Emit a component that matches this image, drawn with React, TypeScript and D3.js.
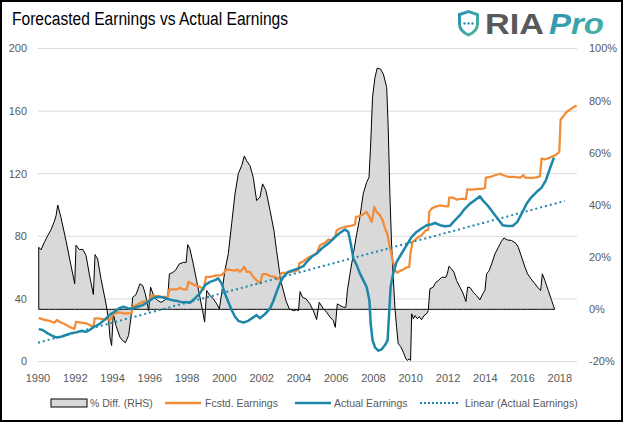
import React from "react";
import * as d3 from "d3";

// ---------- DATA (decimal year, value) ----------
const pctDiff: [number, number][] = [
  [1990.04, 23.8], [1990.16, 22.8], [1990.34, 25.7], [1990.57, 28.9], [1990.7, 30.5], [1990.88, 33.8],
  [1990.97, 35.9], [1991.06, 40.0], [1991.23, 35.3], [1991.5, 26.4], [1991.77, 16.8], [1991.97, 9.8],
  [1992.04, 24.6], [1992.22, 22.9], [1992.4, 23.0], [1992.58, 20.6], [1992.75, 13.6], [1992.97, 5.7],
  [1993.06, 21.0], [1993.2, 19.3], [1993.38, 11.7], [1993.65, 2.1], [1993.79, -4.3], [1993.86, -10.7],
  [1993.95, -13.9], [1994.04, -1.7], [1994.18, -6.2], [1994.4, -10.7], [1994.54, -12.0], [1994.69, -12.8],
  [1994.86, -10.0], [1994.99, -3.0], [1995.08, 4.6], [1995.26, 5.7], [1995.47, 9.8], [1995.62, 9.1],
  [1995.76, 5.9], [1995.94, -0.5], [1996.04, 8.5], [1996.24, 4.6], [1996.42, 3.4], [1996.6, 2.7],
  [1996.78, 3.4], [1996.96, 4.6], [1997.05, 13.6], [1997.22, 14.1], [1997.37, 14.9], [1997.58, 17.4],
  [1997.8, 18.0], [1997.95, 18.0], [1998.03, 24.8], [1998.15, 23.2], [1998.33, 17.4], [1998.51, 11.0],
  [1998.69, 4.6], [1998.83, -0.5], [1998.94, -4.9], [1999.05, 7.2], [1999.23, 5.3], [1999.41, 4.0],
  [1999.59, 2.1], [1999.73, 0.2], [1999.85, 5.9], [2000.03, 14.9], [2000.21, 21.3], [2000.39, 32.8],
  [2000.57, 44.3], [2000.75, 52.1], [2000.93, 55.1], [2001.07, 58.8], [2001.19, 57.0], [2001.37, 55.1],
  [2001.55, 50.6], [2001.73, 41.7], [2001.91, 43.0], [2002.05, 48.1], [2002.23, 45.5], [2002.45, 37.9],
  [2002.66, 30.2], [2002.8, 22.5], [2002.95, 14.9], [2003.07, 9.8], [2003.3, 3.4], [2003.48, 0.2],
  [2003.7, -0.5], [2003.88, -0.2], [2003.98, -0.5], [2004.06, 6.8], [2004.2, 4.6], [2004.38, 4.0],
  [2004.59, 2.1], [2004.77, -0.5], [2004.95, -3.9], [2005.09, 2.7], [2005.31, 0.2], [2005.49, -1.1],
  [2005.67, -3.0], [2005.84, -4.3], [2005.95, -6.9], [2006.06, 2.1], [2006.2, 1.5], [2006.38, 0.8],
  [2006.52, 0.8], [2006.6, 7.2], [2006.74, 13.6], [2006.92, 21.3], [2007.1, 28.9], [2007.27, 35.3],
  [2007.45, 44.3], [2007.63, 48.7], [2007.76, 50.6], [2007.85, 63.4], [2007.95, 81.3], [2008.08, 88.9],
  [2008.2, 92.5], [2008.38, 92.1], [2008.53, 90.2], [2008.71, 85.1], [2008.79, 69.8], [2008.88, 44.3],
  [2008.97, 25.1], [2009.06, 12.3], [2009.15, 0.8], [2009.24, -6.9], [2009.33, -13.2], [2009.46, -14.3],
  [2009.6, -16.4], [2009.74, -19.0], [2009.81, -19.6], [2009.92, -19.0], [2009.99, -19.6], [2010.05, -1.7],
  [2010.14, -3.6], [2010.23, -2.4], [2010.35, -3.6], [2010.46, -2.8], [2010.58, -4.0], [2010.71, -2.4],
  [2010.85, -1.7], [2010.94, -0.5], [2011.03, 7.9], [2011.2, 8.5], [2011.35, 10.4], [2011.48, 11.0],
  [2011.66, 12.3], [2011.89, 12.3], [2011.96, 13.6], [2012.05, 16.5], [2012.19, 15.5], [2012.32, 14.2],
  [2012.46, 11.0], [2012.64, 8.5], [2012.82, 5.9], [2012.96, 3.0], [2013.05, 8.5], [2013.18, 8.4],
  [2013.35, 6.6], [2013.53, 5.3], [2013.71, 3.6], [2013.86, 5.9], [2013.98, 7.2], [2014.07, 13.6],
  [2014.21, 14.9], [2014.34, 17.4], [2014.52, 21.3], [2014.7, 23.8], [2014.87, 26.1], [2015.0, 27.4],
  [2015.18, 26.6], [2015.41, 26.4], [2015.64, 25.3], [2015.77, 23.8], [2015.95, 20.0], [2016.13, 16.1],
  [2016.27, 13.6], [2016.45, 11.7], [2016.66, 9.8], [2016.84, 8.2], [2016.97, 7.2], [2017.06, 13.6],
  [2017.2, 11.0], [2017.38, 7.2], [2017.56, 3.4], [2017.72, 0.0],
];

const fcstEarnings: [number, number][] = [
  [1990.04, 27.9], [1990.25, 26.9], [1990.61, 26.0], [1990.88, 24.8], [1991.01, 26.5], [1991.15, 25.4],
  [1991.42, 23.9], [1991.68, 22.2], [1991.95, 20.7], [1992.04, 25.4], [1992.31, 24.8], [1992.58, 24.4],
  [1992.85, 22.8], [1992.99, 22.8], [1993.04, 27.6], [1993.2, 27.6], [1993.47, 27.1], [1993.69, 27.1],
  [1993.86, 26.5], [1993.95, 28.6], [1994.08, 30.7], [1994.35, 31.4], [1994.62, 30.7], [1994.89, 30.7],
  [1995.03, 31.0], [1995.08, 35.0], [1995.26, 36.0], [1995.44, 37.1], [1995.62, 38.2], [1995.89, 38.5],
  [1995.97, 38.6], [1996.06, 42.0], [1996.33, 42.0], [1996.6, 41.3], [1996.87, 41.3], [1996.96, 41.3],
  [1997.05, 46.1], [1997.22, 46.1], [1997.49, 46.1], [1997.62, 47.2], [1997.78, 46.1], [1997.98, 46.1],
  [1998.07, 50.9], [1998.24, 49.9], [1998.42, 48.8], [1998.69, 47.7], [1998.9, 46.1], [1999.01, 54.1],
  [1999.23, 54.1], [1999.41, 54.5], [1999.59, 55.0], [1999.85, 55.2], [1999.98, 56.7], [2000.12, 58.8],
  [2000.39, 58.4], [2000.57, 58.0], [2000.69, 58.8], [2000.84, 57.3], [2000.93, 58.4], [2001.07, 60.5],
  [2001.19, 57.3], [2001.37, 57.3], [2001.55, 54.1], [2001.76, 51.5], [2001.91, 49.9], [2002.05, 55.8],
  [2002.27, 55.8], [2002.48, 54.5], [2002.72, 54.1], [2002.9, 52.4], [2003.07, 56.7], [2003.34, 56.7],
  [2003.61, 57.3], [2003.79, 57.9], [2003.97, 58.4], [2004.02, 62.6], [2004.24, 64.1], [2004.42, 65.8],
  [2004.59, 66.9], [2004.77, 67.9], [2004.95, 69.0], [2005.13, 74.3], [2005.4, 75.8], [2005.58, 78.0],
  [2005.76, 77.3], [2005.94, 79.6], [2006.03, 83.9], [2006.2, 85.0], [2006.47, 86.0], [2006.74, 86.6],
  [2006.92, 87.1], [2007.01, 87.5], [2007.06, 92.4], [2007.24, 92.8], [2007.45, 94.1], [2007.63, 95.6],
  [2007.78, 92.4], [2007.9, 89.2], [2007.99, 94.5], [2008.04, 98.8], [2008.17, 95.6], [2008.35, 93.5],
  [2008.49, 90.3], [2008.62, 85.0], [2008.74, 81.8], [2008.88, 73.2], [2009.03, 64.8], [2009.15, 58.4],
  [2009.28, 56.7], [2009.42, 57.9], [2009.6, 58.8], [2009.78, 60.1], [2009.92, 60.5], [2009.99, 69.4],
  [2010.1, 76.4], [2010.31, 78.6], [2010.58, 80.7], [2010.81, 83.9], [2010.94, 84.0], [2010.99, 95.6],
  [2011.12, 97.7], [2011.3, 98.8], [2011.57, 99.8], [2011.84, 99.2], [2012.02, 99.2], [2012.06, 104.7],
  [2012.28, 104.7], [2012.46, 103.5], [2012.73, 104.0], [2012.96, 103.8], [2013.03, 110.0], [2013.26, 109.8],
  [2013.53, 110.2], [2013.89, 110.4], [2013.98, 111.0], [2014.03, 117.5], [2014.25, 117.9], [2014.52, 119.0],
  [2014.79, 120.0], [2014.97, 119.0], [2015.24, 117.9], [2015.51, 117.9], [2015.87, 117.5], [2016.05, 119.0],
  [2016.14, 117.5], [2016.41, 117.3], [2016.68, 117.5], [2016.93, 118.3], [2017.02, 129.6], [2017.2, 129.2],
  [2017.47, 130.3], [2017.74, 131.7], [2017.97, 133.8], [2018.04, 154.5], [2018.18, 156.6], [2018.36, 159.4],
  [2018.54, 160.9], [2018.75, 162.6], [2018.9, 163.6],
];

const actualEarnings: [number, number][] = [
  [1990.04, 20.7], [1990.25, 20.1], [1990.52, 18.0], [1990.79, 16.3], [1990.97, 15.4], [1991.24, 15.8],
  [1991.5, 16.9], [1991.77, 18.0], [1992.04, 18.6], [1992.31, 19.5], [1992.58, 19.0], [1992.76, 20.1],
  [1993.02, 22.2], [1993.29, 23.9], [1993.56, 26.5], [1993.83, 29.7], [1994.1, 31.8], [1994.37, 34.1],
  [1994.58, 35.0], [1994.81, 34.1], [1995.08, 33.9], [1995.35, 35.0], [1995.62, 36.0], [1995.89, 38.0],
  [1996.15, 40.3], [1996.42, 41.3], [1996.69, 41.0], [1996.96, 39.9], [1997.22, 39.2], [1997.49, 38.6],
  [1997.76, 37.8], [1998.0, 37.8], [1998.15, 37.5], [1998.42, 40.3], [1998.69, 43.5], [1998.96, 48.8],
  [1999.23, 50.9], [1999.5, 52.0], [1999.67, 53.1], [1999.85, 49.9], [2000.03, 43.5], [2000.21, 38.2],
  [2000.39, 32.9], [2000.57, 28.6], [2000.75, 26.0], [2001.02, 24.8], [2001.28, 26.0], [2001.55, 28.2],
  [2001.73, 29.7], [2001.91, 27.6], [2002.18, 30.3], [2002.45, 33.9], [2002.63, 38.8], [2002.8, 44.5],
  [2002.98, 49.9], [2003.16, 54.1], [2003.43, 57.3], [2003.7, 58.4], [2003.97, 59.5], [2004.24, 60.9],
  [2004.42, 63.7], [2004.68, 66.9], [2004.95, 69.0], [2005.22, 72.2], [2005.49, 74.6], [2005.67, 76.4],
  [2005.94, 79.6], [2006.2, 82.2], [2006.47, 84.3], [2006.65, 82.8], [2006.78, 75.4], [2006.92, 65.8],
  [2007.1, 61.6], [2007.27, 56.3], [2007.45, 52.0], [2007.63, 47.7], [2007.78, 39.2], [2007.85, 24.4],
  [2007.95, 13.7], [2008.08, 9.1], [2008.26, 6.9], [2008.44, 7.8], [2008.62, 10.5], [2008.76, 13.7],
  [2008.85, 32.9], [2008.92, 47.7], [2009.06, 56.3], [2009.24, 63.7], [2009.51, 69.0], [2009.78, 74.3],
  [2010.05, 79.6], [2010.31, 82.8], [2010.58, 85.0], [2010.85, 87.1], [2011.12, 87.7], [2011.3, 88.5],
  [2011.57, 87.1], [2011.84, 86.4], [2012.11, 86.8], [2012.38, 90.3], [2012.64, 93.5], [2012.91, 97.7],
  [2013.18, 100.9], [2013.44, 103.0], [2013.71, 105.6], [2013.89, 102.6], [2014.16, 99.2], [2014.43, 94.9],
  [2014.7, 90.7], [2014.93, 87.1], [2015.18, 86.6], [2015.47, 86.6], [2015.72, 89.2], [2015.95, 94.5],
  [2016.22, 100.9], [2016.48, 105.1], [2016.75, 108.3], [2017.02, 111.1], [2017.25, 115.8], [2017.47, 123.3],
  [2017.68, 130.3],
];

const linearTrend: [number, number][] = [[1990.0, 12.0], [2018.27, 102.6]];

const leftTicks = [0, 40, 80, 120, 160, 200];
const rightTicks = [-20, 0, 20, 40, 60, 80, 100];
const yearTicks = [1990, 1992, 1994, 1996, 1998, 2000, 2002, 2004, 2006, 2008, 2010, 2012, 2014, 2016, 2018];

const legendItems = [
  { key: "diff", label: "% Diff. (RHS)" },
  { key: "fcst", label: "Fcstd. Earnings" },
  { key: "act", label: "Actual Earnings" },
  { key: "lin", label: "Linear (Actual Earnings)" },
];

// ---------- STYLE ----------
const ORANGE = "#F28C36";
const BLUE = "#1C87AA";
const GRID = "#D9D9D9";
const AREA = "#D9D9D9";
const TXT = "#595959";
const FONT = "'Liberation Sans', Arial, sans-serif";

export default function App() {
  const x = d3.scaleLinear().domain([1990, 2018.92]).range([38, 577]);
  const yL = d3.scaleLinear().domain([0, 200]).range([361.5, 48.5]);
  const yR = d3.scaleLinear().domain([-20, 100]).range([361.5, 48.5]);

  const area = d3
    .area<[number, number]>()
    .x((d) => x(d[0]))
    .y0(() => yR(0))
    .y1((d) => yR(d[1]));
  const lineL = d3
    .line<[number, number]>()
    .x((d) => x(d[0]))
    .y((d) => yL(d[1]));

  const legendPos = [
    { sx: 51, tx: 90 },
    { sx: 165, tx: 205 },
    { sx: 295, tx: 334 },
    { sx: 420, tx: 465 },
  ];
  const ly = 403;

  return (
    <svg
      width={624}
      height={424}
      style={{ position: "absolute", left: 0, top: 0, background: "#fff" }}
      fontFamily={FONT}
    >
      <defs>
        <linearGradient id="logoGrad" x1="0" y1="0" x2="1" y2="1">
          <stop offset="0%" stopColor="#2A8FB8" />
          <stop offset="100%" stopColor="#4DB89A" />
        </linearGradient>
      </defs>
      <rect x={0} y={0} width={624} height={424} fill="#fff" />
      <rect x={1} y={1} width={621} height={420} fill="none" stroke="#000" strokeWidth={2} />

      {/* Title */}
      <text x={12} y={25} fontSize={18} fill="#000" textLength={276} lengthAdjust="spacingAndGlyphs">
        Forecasted Earnings vs Actual Earnings
      </text>

      {/* Logo */}
      <g>
        <path
          d="M459.5,14.5 L468.5,11.5 L477.5,14.5 L477.5,24 Q477.5,31 468.5,35 Q459.5,31 459.5,24 Z"
          fill="none"
          stroke="url(#logoGrad)"
          strokeWidth={3}
        />
        {[464.5, 468.5, 472.5].map((cx) => (
          <circle key={cx} cx={cx} cy={23.5} r={1.2} fill="#2A8FB8" />
        ))}
        <text
          x={485}
          y={34}
          fontSize={29}
          fontWeight="bold"
          fill="#58595B"
          textLength={59}
          lengthAdjust="spacingAndGlyphs"
        >
          RIA
        </text>
        <text
          x={549}
          y={34}
          fontSize={29}
          fontWeight="bold"
          fontStyle="italic"
          fill="url(#logoGrad)"
          textLength={55}
          lengthAdjust="spacingAndGlyphs"
        >
          Pro
        </text>
      </g>

      {/* Gridlines */}
      {leftTicks.map((t) => (
        <line key={"g" + t} x1={38} x2={577} y1={yL(t)} y2={yL(t)} stroke={GRID} strokeWidth={1} />
      ))}

      {/* Area (RHS) */}
      <path d={area(pctDiff) || ""} fill={AREA} stroke="#000" strokeWidth={1} strokeLinejoin="round" />

      {/* Lines */}
      <path d={lineL(fcstEarnings) || ""} fill="none" stroke={ORANGE} strokeWidth={2.25} strokeLinejoin="round" />
      <path d={lineL(actualEarnings) || ""} fill="none" stroke={BLUE} strokeWidth={2.5} strokeLinejoin="round" />
      <path
        d={lineL(linearTrend) || ""}
        fill="none"
        stroke={BLUE}
        strokeWidth={2}
        strokeDasharray="2 3"
      />

      {/* Left axis labels */}
      {leftTicks.map((t) => (
        <text key={"l" + t} x={27} y={yL(t)} dy="0.35em" textAnchor="end" fontSize={11} fill={TXT}>
          {t}
        </text>
      ))}
      {/* Right axis labels */}
      {rightTicks.map((t) => (
        <text key={"r" + t} x={589} y={yR(t)} dy="0.35em" textAnchor="start" fontSize={11} fill={TXT}>
          {t + "%"}
        </text>
      ))}
      {/* X axis labels */}
      {yearTicks.map((t) => (
        <text key={"x" + t} x={x(t)} y={378} dy="0.35em" textAnchor="middle" fontSize={11} fill={TXT}>
          {t}
        </text>
      ))}

      {/* Legend */}
      {legendItems.map((it, i) => {
        const p = legendPos[i];
        return (
          <g key={it.key}>
            {it.key === "diff" && (
              <rect x={p.sx} y={ly - 4} width={36} height={8} fill={AREA} stroke="#000" strokeWidth={1} />
            )}
            {it.key === "fcst" && (
              <line x1={p.sx} x2={p.sx + 36} y1={ly} y2={ly} stroke={ORANGE} strokeWidth={2.5} />
            )}
            {it.key === "act" && (
              <line x1={p.sx} x2={p.sx + 36} y1={ly} y2={ly} stroke={BLUE} strokeWidth={2.5} />
            )}
            {it.key === "lin" && (
              <line x1={p.sx} x2={p.sx + 40} y1={ly} y2={ly} stroke={BLUE} strokeWidth={2} strokeDasharray="2 2" />
            )}
            <text x={p.tx} y={ly} dy="0.35em" fontSize={10.5} fill={TXT}>
              {it.label}
            </text>
          </g>
        );
      })}
    </svg>
  );
}
